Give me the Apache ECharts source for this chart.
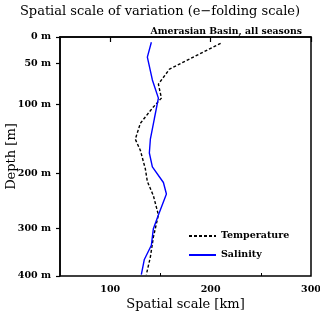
<!DOCTYPE html>
<html>
<head>
<meta charset="utf-8">
<script src="https://cdn.jsdelivr.net/npm/echarts@6/dist/echarts.min.js"></script>
<style>html,body{margin:0;padding:0;background:#fff}#c{width:320px;height:315px}</style>
</head>
<body>
<div id="c"></div>
<script>
// ---- data ----
const depthTickLabels = [0, 50, 100, 200, 300, 400];
const xTickLabels = [100, 200, 300];
const tempDepth = [12, 57, 75, 92, 105, 127, 150, 166, 193, 214, 240, 275, 318, 360, 397];
const tempKm    = [210, 159, 148, 151, 142, 130, 125, 130, 135, 137, 143, 148, 143, 140, 136];
const salDepth  = [10, 38, 70, 92, 120, 150, 170, 190, 216, 237, 275, 300, 335, 365, 397];
const salKm     = [141, 137, 142, 148, 144, 140, 139, 142, 153, 156, 148, 143, 141, 134, 131];

// ---- stretched depth scale (piecewise linear between labelled depths) ----
const scaleStops = [0, 0.1105, 0.2833, 0.572, 0.802, 1];
function depthToAxis(d) {
  for (let i = 0; i < depthTickLabels.length - 1; i++) {
    const a = depthTickLabels[i], b = depthTickLabels[i + 1];
    if (d <= b || i === depthTickLabels.length - 2) {
      const t = (d - a) / (b - a);
      return scaleStops[i] + t * (scaleStops[i + 1] - scaleStops[i]);
    }
  }
}
const tickPos = depthTickLabels.map(depthToAxis);
function axisToLabel(v) {
  let best = 0;
  tickPos.forEach((p, i) => { if (Math.abs(p - v) < Math.abs(tickPos[best] - v)) best = i; });
  return depthTickLabels[best] + ' m';
}

const tempData = tempDepth.map((d, i) => [tempKm[i], depthToAxis(d)]);
const salData = salDepth.map((d, i) => [salKm[i], depthToAxis(d)]);

const font = 'DejaVu Serif';
const chart = echarts.init(document.getElementById('c'), null, {renderer: 'canvas'});
chart.setOption({
  animation: false,
  backgroundColor: '#fff',
  title: [
    {text: 'Spatial scale of variation (e\u2212folding scale)', left: 'center', top: 0,
     textStyle: {fontFamily: font, fontSize: 13, fontWeight: 'normal', color: '#000'}},
    {text: 'Amerasian Basin, all seasons', right: 13, top: 22,
     textStyle: {fontFamily: font, fontSize: 9.3, fontWeight: 'bold', color: '#000'}}
  ],
  grid: {left: 60, right: 9, top: 37, bottom: 39, containLabel: false, outerBoundsMode: 'none',
         show: true, borderColor: '#000', borderWidth: 1.5, backgroundColor: 'transparent'},
  legend: {
    orient: 'vertical', left: 183, top: 226, itemWidth: 27, itemHeight: 10, itemGap: 9,
    itemStyle: {opacity: 0},
    textStyle: {fontFamily: font, fontSize: 9.5, fontWeight: 'bold', color: '#000'},
    data: ['Temperature', 'Salinity']
  },
  xAxis: [
    {type: 'value', min: 50, max: 300, interval: 50, position: 'bottom',
     name: 'Spatial scale [km]', nameLocation: 'middle', nameGap: 22, nameMoveOverlap: false,
     nameTextStyle: {fontFamily: font, fontSize: 13, color: '#000'},
     axisLine: {show: true, lineStyle: {color: '#000', width: 1.5}},
     axisTick: {show: true, length: 5, customValues: xTickLabels, lineStyle: {color: '#000', width: 1.2}},
     axisLabel: {show: true, customValues: xTickLabels, margin: 9, fontFamily: font, fontSize: 9.5, fontWeight: 'bold', color: '#000'},
     splitLine: {show: false}},
    {type: 'value', min: 50, max: 300, position: 'bottom', 
     axisLine: {show: false},
     axisTick: {show: true, inside: true, length: 3, customValues: [150, 250], lineStyle: {color: '#000', width: 1}},
     axisLabel: {show: false}, splitLine: {show: false}}
  ],
  yAxis: {
    type: 'value', min: 0, max: 1, inverse: true,
    name: 'Depth [m]', nameLocation: 'middle', nameGap: 42, nameRotate: 90, nameMoveOverlap: false,
    nameTextStyle: {fontFamily: font, fontSize: 13, color: '#000'},
    axisLine: {show: true, lineStyle: {color: '#000', width: 1.5}},
    axisTick: {show: true, length: 4, customValues: tickPos, lineStyle: {color: '#000', width: 1.2}},
    axisLabel: {show: true, customValues: tickPos, margin: 9, formatter: axisToLabel,
                fontFamily: font, fontSize: 9.5, fontWeight: 'bold', color: '#000'},
    splitLine: {show: false}
  },
  series: [
    {name: 'Temperature', type: 'line', data: tempData, showSymbol: false, symbol: 'none',
     lineStyle: {color: '#000', width: 1.4, type: [3, 2]}, itemStyle: {color: '#000'}},
    {name: 'Salinity', type: 'line', data: salData, showSymbol: false, symbol: 'none',
     lineStyle: {color: '#0000ff', width: 1.4}, itemStyle: {color: '#0000ff'}}
  ]
});
</script>
</body>
</html>
